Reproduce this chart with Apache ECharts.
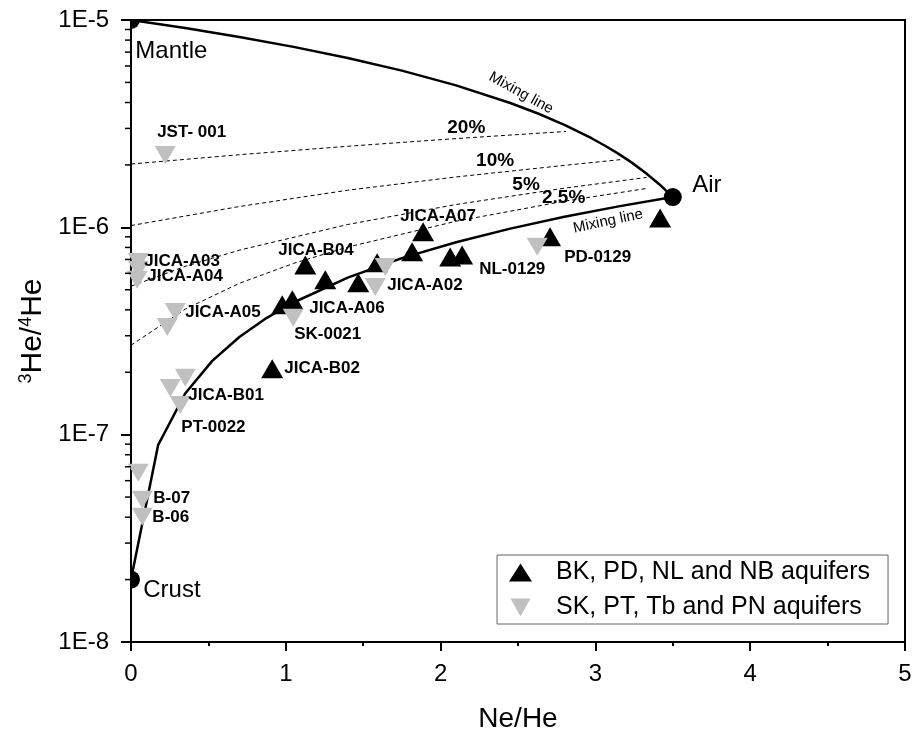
<!DOCTYPE html>
<html>
<head>
<meta charset="utf-8">
<script src="https://cdn.jsdelivr.net/npm/echarts@6/dist/echarts.min.js"></script>
<style>html,body{margin:0;padding:0;background:#fff}#c{width:915px;height:743px}</style>
</head>
<body>
<div id="c"></div>
<script>
// ---------- data ----------
const xTicks = [0, 1, 2, 3, 4, 5];
const yTickLabels = ['1E-8', '1E-7', '1E-6', '1E-5'];
const yMinorTicks = [2e-8,3e-8,4e-8,5e-8,6e-8,7e-8,8e-8,9e-8,2e-7,3e-7,4e-7,5e-7,6e-7,7e-7,8e-7,9e-7,2e-6,3e-6,4e-6,5e-6,6e-6,7e-6,8e-6,9e-6];

const seriesNames = ['BK, PD, NL and NB aquifers', 'SK, PT, Tb and PN aquifers'];

// black up-triangles (Ne/He, 3He/4He)
const bkX = [0.977, 1.042, 1.126, 1.255, 1.468, 1.590, 1.816, 1.887, 2.062, 2.139, 2.707, 3.418, 0.912];
const bkY = [4.23e-7, 4.47e-7, 6.59e-7, 5.58e-7, 5.40e-7, 6.74e-7, 7.62e-7, 9.51e-7, 7.20e-7, 7.36e-7, 9.0e-7, 1.11e-6, 2.08e-7];

// gray down-triangles
const skX = [0.221, 0.047, 0.047, 0.040, 0.286, 0.234, 1.048, 1.578, 1.642, 2.624, 0.351, 0.254, 0.318, 0.047, 0.073, 0.073];
const skY = [2.23e-6, 6.81e-7, 6.24e-7, 5.58e-7, 3.91e-7, 3.31e-7, 3.66e-7, 5.16e-7, 6.44e-7, 8.05e-7, 1.88e-7, 1.68e-7, 1.39e-7, 6.55e-8, 4.85e-8, 4.02e-8];

// end members
const endNames = ['Mantle', 'Crust', 'Air'];
const endX = [0, 0, 3.5];
const endY = [1.0e-5, 2.0e-8, 1.4e-6];

// mixing lines
const mixUpperX = [0, 0.35, 0.7, 1.05, 1.4, 1.75, 2.1, 2.45, 2.625, 2.8, 2.975, 3.0625, 3.15, 3.2375, 3.325, 3.4125, 3.5];
const mixUpperY = [1.0e-5, 9.14e-6, 8.28e-6, 7.42e-6, 6.56e-6, 5.70e-6, 4.84e-6, 3.98e-6, 3.55e-6, 3.12e-6, 2.69e-6, 2.475e-6, 2.26e-6, 2.046e-6, 1.83e-6, 1.615e-6, 1.4e-6];
const mixLowerX = [0, 0.175, 0.35, 0.525, 0.7, 0.875, 1.05, 1.4, 1.75, 2.1, 2.45, 2.8, 3.15, 3.5];
const mixLowerY = [2.0e-8, 8.90e-8, 1.58e-7, 2.27e-7, 2.96e-7, 3.65e-7, 4.34e-7, 5.72e-7, 7.10e-7, 8.48e-7, 9.86e-7, 1.124e-6, 1.262e-6, 1.4e-6];

// dashed mantle-fraction lines
const pct20X = [0, 0.7, 1.4, 2.1, 2.81];
const pct20Y = [2.02e-6, 2.24e-6, 2.46e-6, 2.68e-6, 2.90e-6];
const pct10X = [0, 0.7, 1.4, 2.1, 2.8, 3.16];
const pct10Y = [1.02e-6, 1.26e-6, 1.51e-6, 1.75e-6, 1.99e-6, 2.12e-6];
const pct5X = [0, 0.35, 0.7, 1.4, 2.1, 2.8, 3.33];
const pct5Y = [5.2e-7, 6.48e-7, 7.76e-7, 1.032e-6, 1.289e-6, 1.545e-6, 1.74e-6];
const pct25X = [0, 0.35, 0.7, 1.05, 1.4, 2.1, 2.8, 3.33];
const pct25Y = [2.7e-7, 4.03e-7, 5.37e-7, 6.70e-7, 8.03e-7, 1.07e-6, 1.337e-6, 1.54e-6];

// sample labels (left-anchored text positions)
const sampleLabels = ['JST- 001','JICA-A03','JICA-A04','JICA-A05','JICA-B04','JICA-A06','SK-0021','JICA-A02','JICA-A07','NL-0129','PD-0129','JICA-B02','JICA-B01','PT-0022','B-07','B-06'];
const sampleLabX = [0.169, 0.086, 0.105, 0.350, 0.951, 1.151, 1.054, 1.655, 1.740, 2.249, 2.798, 0.990, 0.370, 0.325, 0.144, 0.138];
const sampleLabY = [2.87e-6, 6.89e-7, 5.80e-7, 3.89e-7, 7.78e-7, 4.09e-7, 3.05e-7, 5.28e-7, 1.135e-6, 6.24e-7, 7.13e-7, 2.08e-7, 1.556e-7, 1.08e-7, 4.91e-8, 4.00e-8];

// end-member labels (left-anchored)
const endLabX = [0.028, 0.079, 3.625];
const endLabY = [7.09e-6, 1.77e-8, 1.585e-6];

// percentage labels (centered)
const pctLabels = ['20%', '10%', '5%', '2.5%'];
const pctLabX = [2.166, 2.352, 2.552, 2.795];
const pctLabY = [3.03e-6, 2.10e-6, 1.61e-6, 1.39e-6];

// mixing line labels (centered, rotated)
const mixLabels = ['Mixing line', 'Mixing line'];
const mixLabX = [2.52, 3.082];
const mixLabY = [4.44e-6, 1.07e-6];
const mixLabRot = [-29, 12];

// ---------- chart ----------
const FONT = 'Liberation Sans, Arial, sans-serif';
const zip = (a, b) => a.map((v, i) => [v, b[i]]);
const DOWN_TRI = 'path://M0,0L10,0L5,9Z';

const lineSeries = (x, y, width, type) => ({
  type: 'line', data: zip(x, y), showSymbol: false, symbol: 'none', silent: true,
  lineStyle: {color: '#000', width: width, type: type, opacity: 1}, z: 2, animation: false
});

const textSeries = (names, xs, ys, label, extra) => ({
  type: 'scatter', silent: true, z: 6, symbolSize: 0,
  itemStyle: {opacity: 1},
  data: names.map((t, i) => Object.assign({value: [xs[i], ys[i]], name: t}, extra ? extra(i) : {})),
  label: Object.assign({show: true, formatter: p => p.name, color: '#000', fontFamily: FONT}, label)
});

const option = {
  animation: false,
  textStyle: {fontFamily: FONT},
  grid: {left: 131, right: 10, top: 20, bottom: 101, show: true, borderColor: '#000', borderWidth: 2, backgroundColor: 'transparent'},
  legend: {
    data: seriesNames,
    orient: 'vertical',
    left: 497, top: 555,
    padding: [5, 18, 4, 12],
    itemWidth: 23, itemHeight: 18, itemGap: 10,
    borderColor: '#666', borderWidth: 1,
    textStyle: {fontFamily: FONT, fontSize: 25, color: '#000', lineHeight: 25, padding: [0, 0, 0, 19]}
  },
  xAxis: {
    type: 'value', min: xTicks[0], max: xTicks[xTicks.length - 1], interval: 1,
    name: 'Ne/He', nameLocation: 'middle', nameGap: 63,
    nameTextStyle: {fontFamily: FONT, fontSize: 28, color: '#000'},
    axisLine: {onZero: false, lineStyle: {color: '#000', width: 2}},
    axisTick: {inside: false, length: 9, lineStyle: {color: '#000', width: 2}},
    minorTick: {show: true, splitNumber: 2, length: 4, lineStyle: {color: '#000', width: 2}},
    axisLabel: {fontFamily: FONT, fontSize: 24, color: '#000', margin: 20},
    splitLine: {show: false}
  },
  yAxis: {
    type: 'log', logBase: 10, min: 1e-8, max: 1e-5,
    name: '{sup|3}{main|He/}{sup|4}{main|He}', nameLocation: 'middle', nameGap: 83,
    nameTextStyle: {
      color: '#000',
      rich: {
        main: {fontFamily: FONT, fontSize: 30, color: '#000'},
        sup: {fontFamily: FONT, fontSize: 18, color: '#000', padding: [0, 0, 13, 0]}
      }
    },
    axisLine: {onZero: false, lineStyle: {color: '#000', width: 2}},
    axisTick: {inside: false, length: 10, lineStyle: {color: '#000', width: 2}},
    axisLabel: {
      fontFamily: FONT, fontSize: 24, color: '#000', margin: 22,
      formatter: v => yTickLabels[Math.round(Math.log10(v)) + 8] || ''
    },
    splitLine: {show: false}
  },
  series: [
    lineSeries(pct20X, pct20Y, 1, [4, 3]),
    lineSeries(pct10X, pct10Y, 1, [4, 3]),
    lineSeries(pct5X, pct5Y, 1, [4, 3]),
    lineSeries(pct25X, pct25Y, 1, [4, 3]),
    lineSeries(mixUpperX, mixUpperY, 2.5, 'solid'),
    lineSeries(mixLowerX, mixLowerY, 2.5, 'solid'),
    {
      name: seriesNames[0], type: 'scatter', data: zip(bkX, bkY),
      symbol: 'triangle', symbolSize: [22, 19],
      itemStyle: {color: '#000', opacity: 1}, z: 3
    },
    {
      name: seriesNames[1], type: 'scatter', data: zip(skX, skY),
      symbol: DOWN_TRI, symbolSize: [21, 18],
      itemStyle: {color: '#c0c0c0', opacity: 1}, z: 4
    },
    {
      type: 'custom', clip: true, z: 5, silent: true,
      data: zip(endX, endY),
      renderItem: (params, api) => {
        const p = api.coord([api.value(0), api.value(1)]);
        return {type: 'circle', shape: {cx: p[0], cy: p[1], r: 9}, style: {fill: '#000'}};
      }
    },
    {
      type: 'custom', clip: false, z: 5, silent: true,
      data: yMinorTicks.map(v => [0, v]),
      renderItem: (params, api) => {
        const p = api.coord([api.value(0), api.value(1)]);
        return {type: 'line', shape: {x1: p[0] - 6, y1: p[1], x2: p[0], y2: p[1]}, style: {stroke: '#000', lineWidth: 1.5}};
      }
    },
    textSeries(sampleLabels, sampleLabX, sampleLabY,
      {position: 'right', distance: 0, fontSize: 17, fontWeight: 'bold'}),
    textSeries(endNames, endLabX, endLabY,
      {position: 'right', distance: 0, fontSize: 24}),
    textSeries(pctLabels, pctLabX, pctLabY,
      {position: 'inside', fontSize: 19, fontWeight: 'bold'}),
    textSeries(mixLabels, mixLabX, mixLabY,
      {position: 'inside', fontSize: 15},
      i => ({label: {rotate: mixLabRot[i]}}))
  ]
};

const chart = echarts.init(document.getElementById('c'), null, {renderer: 'canvas'});
chart.setOption(option);
</script>
</body>
</html>
